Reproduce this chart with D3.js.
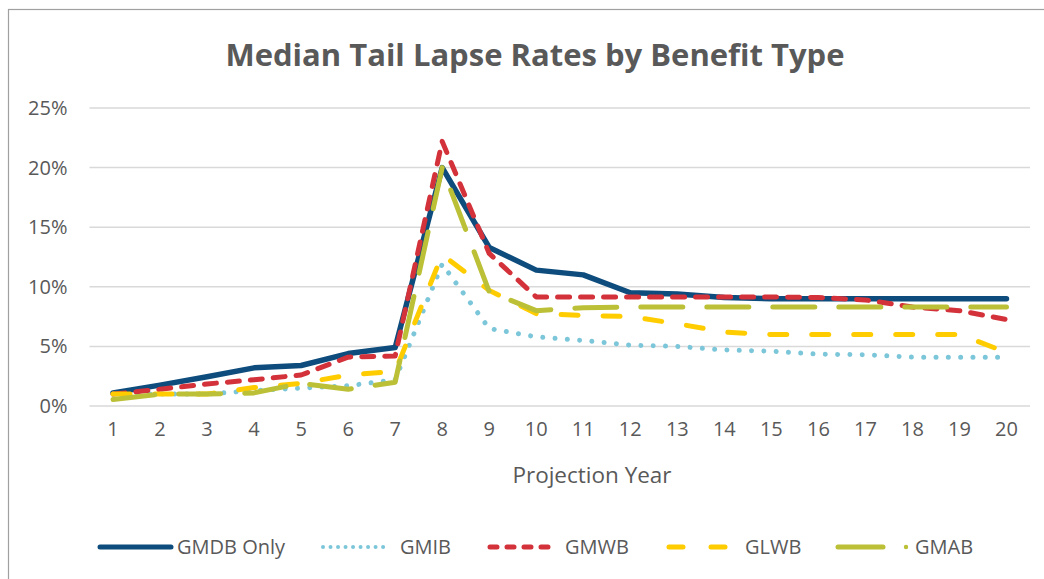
<!DOCTYPE html>
<html lang="en">

<head>
    <meta charset="UTF-8">
    <title>Median Tail Lapse Rates by Benefit Type</title>
    <script src="https://cdn.jsdelivr.net/npm/d3@7"></script>
    <style>
        body {
            margin: 0;
            padding: 0;
            background: white;
            font-family: "Open Sans", sans-serif;
        }

        text {
            fill: #595959;
        }
    </style>
</head>

<body>
    <div id="chart"></div>

    <script>
        const svgWidth = 1044;
        const svgHeight = 579;

        // projection years 1..20
        const years = d3.range(1, 21);
        const yTicks = [0, 0.05, 0.10, 0.15, 0.20, 0.25];

        // median tail lapse rates (%)
        const gmdbOnly = [1.1, 1.75, 2.45, 3.2, 3.4, 4.4, 4.9, 20.0, 13.3, 11.4, 11.0, 9.5, 9.4, 9.1, 9.0, 9.0, 9.0, 9.0, 9.0, 9.0];
        const gmib = [1.0, 1.0, 1.0, 1.3, 1.5, 1.7, 2.2, 11.9, 6.5, 5.8, 5.5, 5.1, 5.0, 4.7, 4.6, 4.35, 4.3, 4.1, 4.1, 4.1];
        const gmwb = [1.0, 1.4, 1.85, 2.2, 2.6, 4.1, 4.2, 22.2, 12.8, 9.15, 9.15, 9.15, 9.15, 9.15, 9.15, 9.1, 8.9, 8.3, 8.0, 7.25];
        const glwb = [1.0, 1.0, 1.0, 1.55, 1.9, 2.6, 2.9, 12.7, 9.7, 7.75, 7.6, 7.5, 6.9, 6.2, 6.0, 6.0, 6.0, 6.0, 6.0, 4.5];
        const gmab = [0.55, 1.0, 1.0, 1.1, 1.9, 1.4, 2.0, 20.0, 9.6, 8.0, 8.25, 8.3, 8.3, 8.3, 8.3, 8.3, 8.3, 8.3, 8.3, 8.3];

        const seriesNames = ["GMDB Only", "GMIB", "GMWB", "GLWB", "GMAB"];
        const seriesValues = [gmdbOnly, gmib, gmwb, glwb, gmab];

        const series = seriesNames.map((name, i) => ({
            name: name,
            values: seriesValues[i].map((v, j) => ({ year: years[j], rate: v / 100 }))
        }));

        // line styles per series
        const styles = {
            "GMDB Only": { color: "#0D4C7C", width: 5.5, dash: null, legendDash: null },
            "GMIB": { color: "#7CC6D9", width: 5, dash: "0.01 12.3", legendDash: "0.01 7.5" },
            "GMWB": { color: "#D3323A", width: 5, dash: "12 11", legendDash: "7 10" },
            "GLWB": { color: "#FFCC00", width: 5, dash: "17 25", legendDash: "14 28" },
            "GMAB": { color: "#BBC036", width: 5, dash: "42 24", legendDash: null }
        };

        const plot = { left: 89.5, right: 1030, top: 108, bottom: 406 };

        const svg = d3.select("#chart")
            .append("svg")
            .attr("width", svgWidth)
            .attr("height", svgHeight);

        // chart frame
        svg.append("rect")
            .attr("x", 8.5)
            .attr("y", 9.5)
            .attr("width", svgWidth + 10)
            .attr("height", svgHeight + 10)
            .attr("fill", "none")
            .attr("stroke", "#a0a0a0")
            .attr("stroke-width", 1.2);

        svg.append("text")
            .attr("x", 535)
            .attr("y", 66)
            .attr("text-anchor", "middle")
            .style("font-size", "31px")
            .style("font-weight", "bold")
            .text("Median Tail Lapse Rates by Benefit Type");

        const x = d3.scaleBand()
            .domain(years)
            .range([plot.left, plot.right]);

        const y = d3.scaleLinear()
            .domain([0, 0.25])
            .range([plot.bottom, plot.top]);

        const xPos = d => x(d) + x.bandwidth() / 2;

        // gridlines
        svg.append("g")
            .selectAll("line")
            .data(yTicks)
            .enter()
            .append("line")
            .attr("x1", plot.left)
            .attr("x2", plot.right)
            .attr("y1", d => y(d))
            .attr("y2", d => y(d))
            .attr("stroke", "#d9d9d9")
            .attr("stroke-width", 1.5);

        // y axis labels
        const yAxis = svg.append("g")
            .attr("transform", `translate(${plot.left},0)`)
            .call(d3.axisLeft(y).tickValues(yTicks).tickFormat(d3.format(".0%")).tickSize(0).tickPadding(22));
        yAxis.select(".domain").remove();
        yAxis.selectAll("text")
            .style("font-size", "20px")
            .style("font-family", "Open Sans")
            .attr("fill", "#595959");

        // x axis labels
        const xAxis = svg.append("g")
            .attr("transform", `translate(0,${plot.bottom})`)
            .call(d3.axisBottom(x).tickSize(0).tickPadding(16));
        xAxis.select(".domain").remove();
        xAxis.selectAll("text")
            .style("font-size", "20px")
            .style("font-family", "Open Sans")
            .attr("fill", "#595959");

        svg.append("text")
            .attr("x", 592)
            .attr("y", 483)
            .attr("text-anchor", "middle")
            .style("font-size", "22.5px")
            .text("Projection Year");

        const line = d3.line()
            .x(d => xPos(d.year))
            .y(d => y(d.rate));

        svg.append("g")
            .selectAll("path")
            .data(series)
            .enter()
            .append("path")
            .attr("d", d => line(d.values))
            .attr("fill", "none")
            .attr("stroke", d => styles[d.name].color)
            .attr("stroke-width", d => styles[d.name].width)
            .attr("stroke-dasharray", d => styles[d.name].dash)
            .attr("stroke-linecap", "round")
            .attr("stroke-linejoin", "round");

        // legend
        const legendItems = [
            { name: "GMDB Only", x1: 100, x2: 171, tx: 177 },
            { name: "GMIB", x1: 323, x2: 389, tx: 400 },
            { name: "GMWB", x1: 490, x2: 552, tx: 565 },
            { name: "GLWB", x1: 669, x2: 737, tx: 745 },
            { name: "GMAB", x1: 838, x2: 883, tx: 915 }
        ];
        const legendY = 547;

        const legend = svg.append("g");
        legendItems.forEach(item => {
            const s = styles[item.name];
            legend.append("line")
                .attr("x1", item.x1)
                .attr("x2", item.x2)
                .attr("y1", legendY)
                .attr("y2", legendY)
                .attr("stroke", s.color)
                .attr("stroke-width", item.name === "GMIB" ? 4 : 5)
                .attr("stroke-dasharray", s.legendDash)
                .attr("stroke-linecap", "round");
            if (item.name === "GMAB") {
                legend.append("circle")
                    .attr("cx", 906)
                    .attr("cy", legendY)
                    .attr("r", 2.2)
                    .attr("fill", s.color);
            }
            legend.append("text")
                .attr("x", item.tx)
                .attr("y", legendY)
                .attr("dy", "0.36em")
                .style("font-size", "20px")
                .text(item.name);
        });
    </script>

</body>
</html>
